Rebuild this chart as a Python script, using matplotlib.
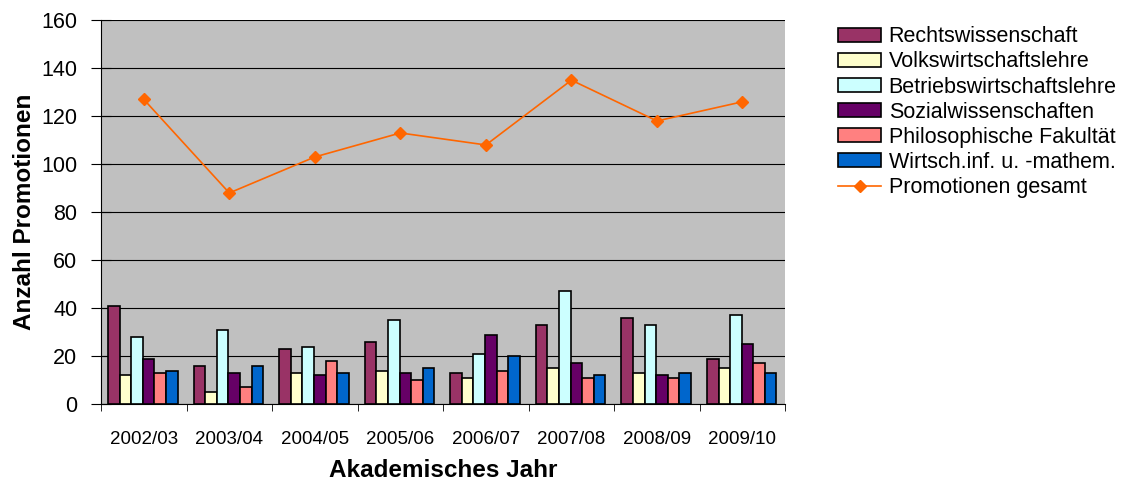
import numpy as np
import matplotlib
matplotlib.use("Agg")
import matplotlib.pyplot as plt

plt.rcParams['font.family'] = ['Liberation Sans', 'DejaVu Sans']

years = ["2002/03", "2003/04", "2004/05", "2005/06", "2006/07", "2007/08", "2008/09", "2009/10"]

rechts = [41, 16, 23, 26, 13, 33, 36, 19]
volks = [12, 5, 13, 14, 11, 15, 13, 15]
bwl = [28, 31, 24, 35, 21, 47, 33, 37]
sozial = [19, 13, 12, 13, 29, 17, 12, 25]
philo = [13, 7, 18, 10, 14, 11, 11, 17]
wirtsch = [14, 16, 13, 15, 20, 12, 13, 13]
gesamt = [127, 88, 103, 113, 108, 135, 118, 126]

series = [
    ("Rechtswissenschaft", rechts, "#993366"),
    ("Volkswirtschaftslehre", volks, "#FFFFCC"),
    ("Betriebswirtschaftslehre", bwl, "#CCFFFF"),
    ("Sozialwissenschaften", sozial, "#660066"),
    ("Philosophische Fakultät", philo, "#FF8080"),
    ("Wirtsch.inf. u. -mathem.", wirtsch, "#0066CC"),
]

fig = plt.figure(figsize=(11.31, 4.8), dpi=100)
ax = fig.add_axes([0.0893, 0.158, 0.605, 0.8])
ax.set_facecolor("#C0C0C0")

x = np.arange(len(years))
w = 0.135
handles = []
for i, (name, vals, col) in enumerate(series):
    h = ax.bar(x + (i - 2.5) * w - 0.01, vals, w, color=col, edgecolor="black",
               linewidth=1.2, label=name, zorder=3)
    handles.append(h)

line, = ax.plot(x, gesamt, color="#FF6600", marker="D", markersize=6, linewidth=1.2,
                label="Promotionen gesamt", zorder=4)
handles.append(line)

ax.set_xlim(-0.5, len(years) - 0.5)
ax.set_ylim(0, 160)
ax.set_yticks(range(0, 161, 20))
ax.yaxis.grid(True, color="black", linewidth=0.8, zorder=0)
ax.set_axisbelow(True)

ax.set_xticks(x)
ax.set_xticklabels(years, fontsize=13.5)
ax.set_xticks(np.arange(-0.5, len(years), 1), minor=True)
ax.tick_params(axis="x", which="major", length=0, pad=19)
ax.tick_params(axis="x", which="minor", length=5, direction="out")
ax.tick_params(axis="y", labelsize=15.5, length=14, direction="inout", pad=10)

for s in ["top", "right"]:
    ax.spines[s].set_visible(False)
ax.spines["left"].set_color("black")
ax.spines["bottom"].set_color("black")

ax.set_ylabel("Anzahl Promotionen", fontsize=17.5, fontweight="bold", labelpad=4)
ax.set_xlabel("Akademisches Jahr", fontsize=17.5, fontweight="bold", labelpad=8)

fig.legend(handles=handles, loc="upper left", bbox_to_anchor=(0.741, 0.945),
           frameon=False, fontsize=15.5, handlelength=2.0, handleheight=0.65,
           handletextpad=0.35, labelspacing=0.19, borderpad=0, borderaxespad=0)

fig.savefig("out.png", dpi=100)
